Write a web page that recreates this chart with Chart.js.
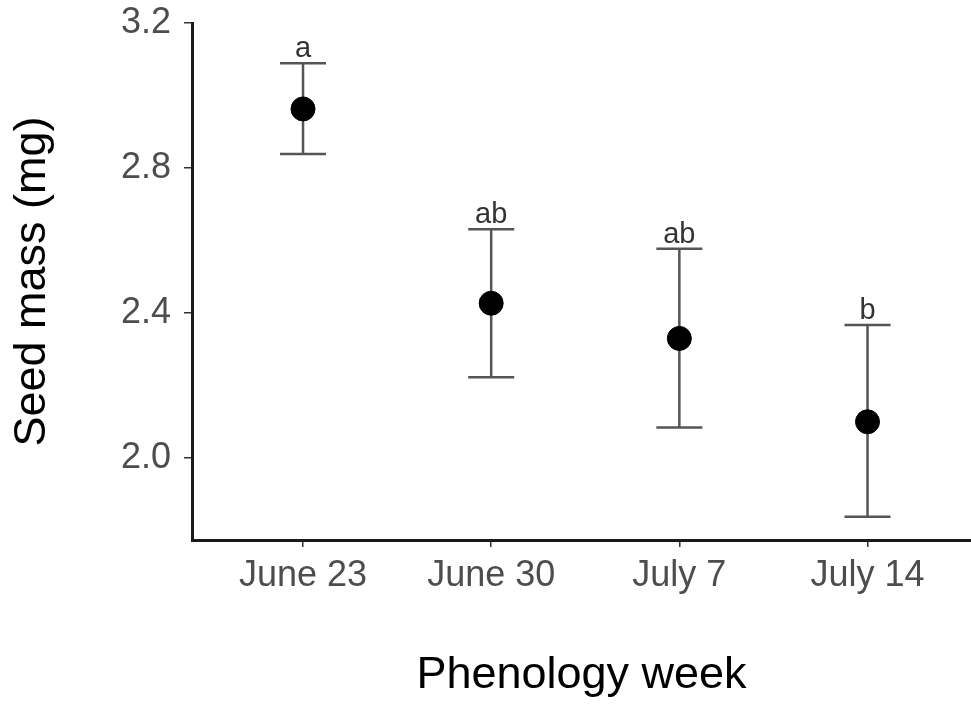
<!DOCTYPE html>
<html>
<head>
<meta charset="utf-8">
<script src="https://cdn.jsdelivr.net/npm/chart.js@4.4.1/dist/chart.umd.min.js"></script>
<style>
  html, body { margin: 0; padding: 0; background: #fff; }
  canvas { display: block; }
</style>
</head>
<body>
<canvas id="chart" width="971" height="705"></canvas>
<script>
const weeks = ["June 23", "June 30", "July 7", "July 14"];
const meanMass = [2.963, 2.427, 2.330, 2.100];
const upperMass = [3.089, 2.631, 2.577, 2.367];
const lowerMass = [2.839, 2.223, 2.084, 1.838];
const groupLetters = ["a", "ab", "ab", "b"];
const yTicks = [2.0, 2.4, 2.8, 3.2];

const FONT = "'Liberation Sans', Arial, Helvetica, sans-serif";

// error bars + letters, drawn under the points
const errorBars = {
  id: "errorBars",
  beforeDatasetsDraw(chart) {
    const { ctx, scales } = chart;
    const x = scales.x, y = scales.y;
    ctx.save();
    ctx.strokeStyle = "#555555";
    ctx.lineWidth = 2.5;
    weeks.forEach((w, i) => {
      const px = x.getPixelForValue(i + 1);
      const top = y.getPixelForValue(upperMass[i]);
      const bot = y.getPixelForValue(lowerMass[i]);
      const half = 23;
      ctx.beginPath();
      ctx.moveTo(px, top);
      ctx.lineTo(px, bot);
      ctx.moveTo(px - half, top);
      ctx.lineTo(px + half, top);
      ctx.moveTo(px - half, bot);
      ctx.lineTo(px + half, bot);
      ctx.stroke();

      ctx.fillStyle = "#333333";
      ctx.font = "29px " + FONT;
      ctx.textAlign = "center";
      ctx.textBaseline = "alphabetic";
      ctx.fillText(groupLetters[i], px, top - 6);
    });
    ctx.restore();
  }
};

new Chart(document.getElementById("chart"), {
  type: "scatter",
  data: {
    datasets: [{
      data: meanMass.map((v, i) => ({ x: i + 1, y: v })),
      backgroundColor: "#000000",
      borderColor: "#000000",
      pointRadius: 12,
      pointHoverRadius: 12,
      clip: false,
    }]
  },
  options: {
    responsive: false,
    animation: false,
    events: [],
    layout: { autoPadding: false, padding: { top: 23, right: 0, bottom: 0, left: 0 } },
    plugins: { legend: { display: false }, tooltip: { enabled: false } },
    scales: {
      x: {
        type: "linear",
        min: 0.41,
        max: 4.55,
        afterBuildTicks: (scale) => {
          scale.ticks = weeks.map((w, i) => ({ value: i + 1 }));
        },
        afterFit: (scale) => {
          scale.height = 165;
          scale.paddingLeft = 0;
          scale.paddingRight = 0;
        },
        border: { display: true, color: "#1a1a1a", width: 3 },
        grid: {
          display: true,
          drawOnChartArea: false,
          drawTicks: true,
          tickLength: 7,
          color: "#333333",
          lineWidth: 1.5,
        },
        ticks: {
          padding: 7,
          color: "#4d4d4d",
          font: { family: FONT, size: 36 },
          maxRotation: 0,
          callback: (v) => weeks[v - 1],
        },
        title: {
          display: true,
          text: "Phenology week",
          color: "#000000",
          font: { family: FONT, size: 45 },
          padding: { top: 0, bottom: 2 },
        },
      },
      y: {
        min: 1.774,
        max: 3.2,
        afterBuildTicks: (scale) => {
          scale.ticks = yTicks.map((v) => ({ value: v }));
        },
        afterFit: (scale) => {
          scale.width = 192;
          scale.paddingTop = 0;
          scale.paddingBottom = 0;
        },
        border: { display: true, color: "#1a1a1a", width: 3 },
        grid: {
          display: true,
          drawOnChartArea: false,
          drawTicks: true,
          tickLength: 8,
          color: "#333333",
          lineWidth: 1.5,
        },
        ticks: {
          padding: 13,
          color: "#4d4d4d",
          font: { family: FONT, size: 36 },
          callback: (v) => v.toFixed(1),
        },
        title: {
          display: true,
          text: "Seed mass (mg)",
          color: "#000000",
          font: { family: FONT, size: 45 },
          padding: { top: 6, bottom: 0 },
        },
      },
    },
  },
  plugins: [errorBars],
});
</script>
</body>
</html>
